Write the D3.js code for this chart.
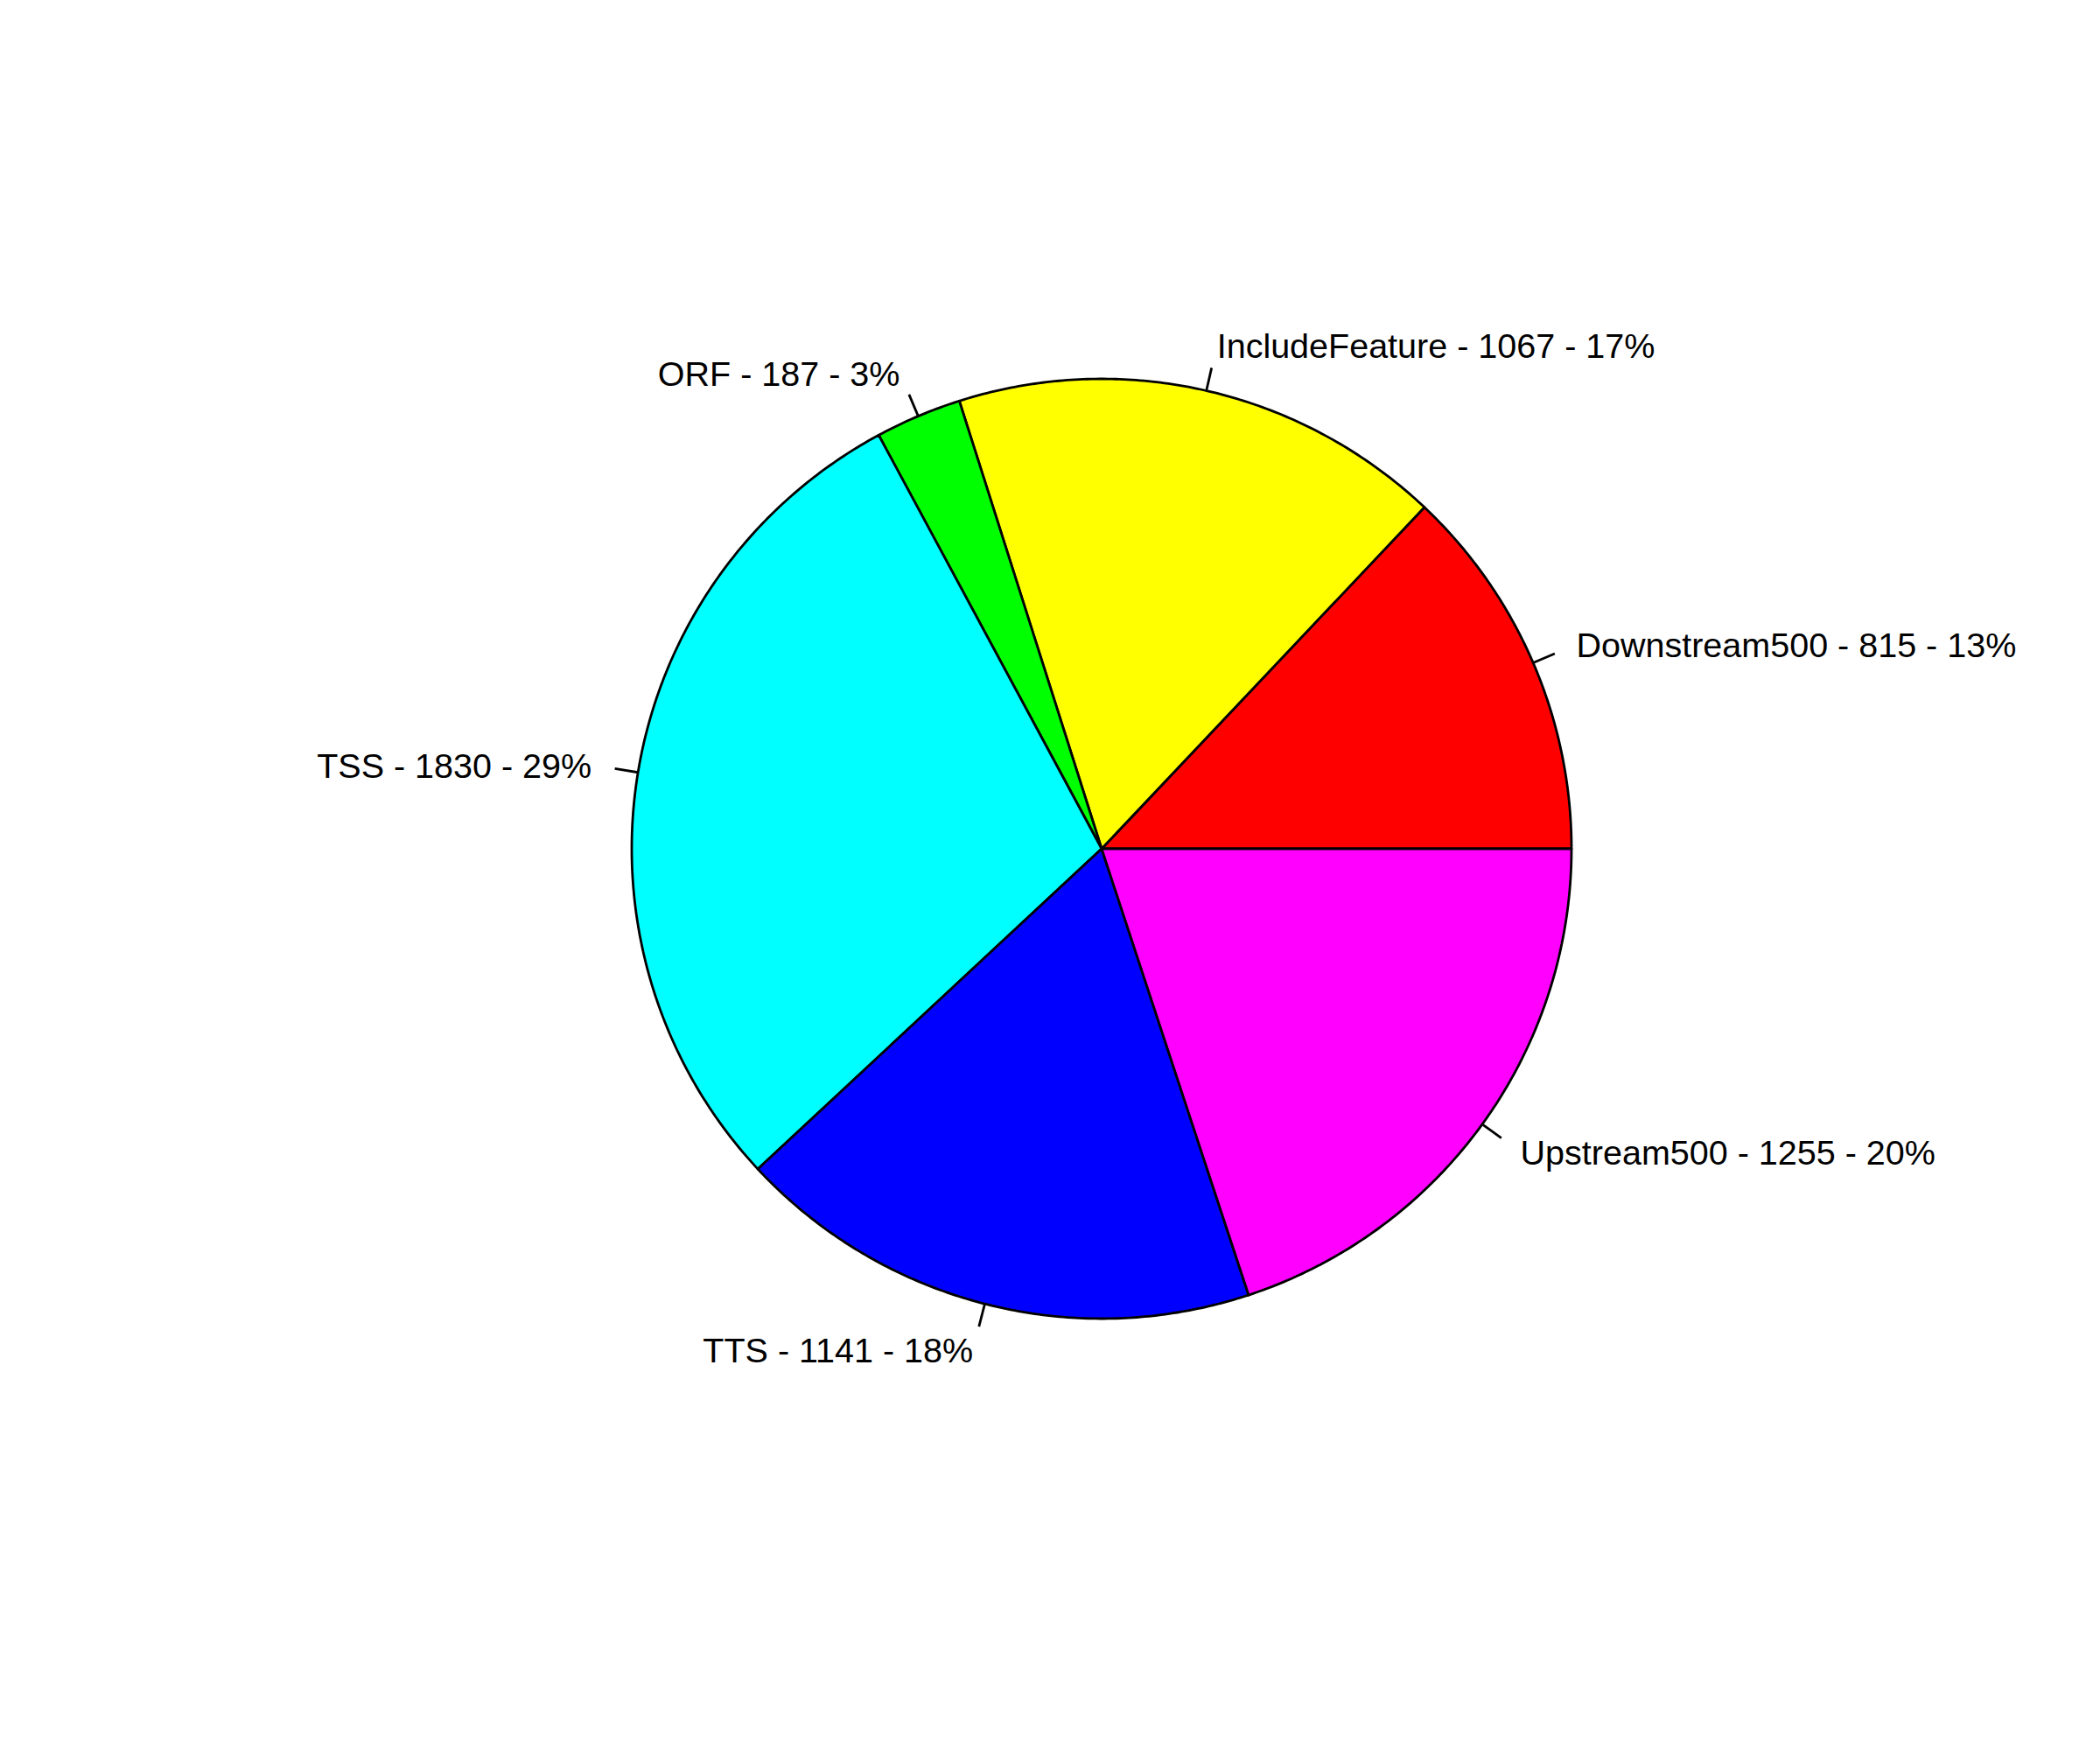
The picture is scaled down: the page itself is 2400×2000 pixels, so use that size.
<!DOCTYPE html>
<html><head><meta charset="utf-8">
<script src="https://cdn.jsdelivr.net/npm/d3@7"></script>
<style>body{margin:0;background:#fff}</style>
</head><body>
<svg id="c" width="2400" height="2000"></svg>
<script>
const categories = ["Downstream500","IncludeFeature","ORF","TSS","TTS","Upstream500"];
const counts = [815,1067,187,1830,1141,1255];
const percents = [13,17,3,29,18,20];
const colors = ["#FF0000","#FFFF00","#00FF00","#00FFFF","#0000FF","#FF00FF"];

const svg = d3.select("#c");
const cx = 1259, cy = 970, r = 537;
const g = svg.append("g").attr("transform", `translate(${cx},${cy})`);
const data = categories.map((c,i)=>({name:c,value:counts[i],pct:percents[i],color:colors[i]}));
const total = d3.sum(counts);
// R pie: counter-clockwise from 3 o'clock
const angle = d3.scaleLinear().domain([0,total]).range([0,2*Math.PI]);
let cum = 0;
data.forEach(d=>{d.a0=angle(cum); cum+=d.value; d.a1=angle(cum);});
const toPt = (a,rad)=>[rad*Math.cos(a), -rad*Math.sin(a)];
data.forEach(d=>{
  const n = Math.max(2, Math.ceil((d.a1-d.a0)/(Math.PI/360)));
  const pts=[[0,0]];
  for(let k=0;k<=n;k++){pts.push(toPt(d.a0+(d.a1-d.a0)*k/n,r));}
  g.append("path").attr("d", d3.line()(pts)+"Z")
    .attr("fill", d.color).attr("stroke","#000").attr("stroke-width",2.8).attr("stroke-linejoin","round");
  const m=(d.a0+d.a1)/2;
  const p1=toPt(m,r), p2=toPt(m,r*1.05), p3=toPt(m,r*1.1);
  g.append("line").attr("x1",p1[0]).attr("y1",p1[1]).attr("x2",p2[0]).attr("y2",p2[1])
    .attr("stroke","#000").attr("stroke-width",2.8);
  g.append("text").attr("x",p3[0]).attr("y",p3[1]).attr("dy","0.38em")
    .attr("text-anchor", p3[0]<0?"end":"start")
    .attr("font-family","Liberation Sans, Arial, sans-serif").attr("font-size",39.5)
    .attr("fill","#000")
    .text(`${d.name} - ${d.value} - ${d.pct}%`);
});
</script>
</body></html>
